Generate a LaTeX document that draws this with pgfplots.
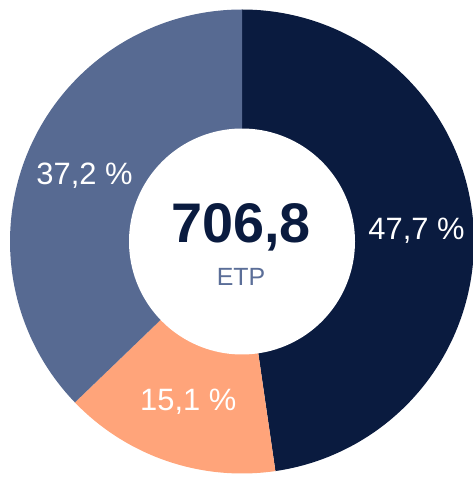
\documentclass[border=0pt]{standalone}
\usepackage{pgfplots}
\pgfplotsset{compat=1.18}
\usepackage{fontspec}
\setmainfont{Liberation Sans}
\definecolor{navy}{HTML}{0A1B3F}
\definecolor{slate}{HTML}{576A92}
\definecolor{peach}{HTML}{FFA47A}
\definecolor{etp}{HTML}{5B6E98}
\tikzset{lbl/.style={text=white, anchor=base, inner sep=0pt,
    font=\fontsize{31}{31}\selectfont}}

% shares in percent, clockwise from 12 o'clock
\def\pa{47.7}\def\pb{15.1}\def\pc{37.2}
\pgfmathsetmacro\aA{90}
\pgfmathsetmacro\aB{90-3.6*\pa}
\pgfmathsetmacro\aC{\aB-3.6*\pb}
\pgfmathsetmacro\aD{\aC-3.6*\pc}
\def\cx{242}\def\cy{235.5}\def\ro{232}\def\ri{113}

\begin{document}
\begin{tikzpicture}
\useasboundingbox (0,0) rectangle (473bp,477bp);
\begin{axis}[
  width=473bp, height=477bp, scale only axis,
  xmin=0, xmax=473, ymin=0, ymax=477,
  hide axis, clip=true,
  samples=150, variable=\t,
]
\addplot[fill=navy, draw=none, domain=\aB:\aA]
  ({\cx+\ro*cos(t)},{\cy+\ro*sin(t)}) -- (axis cs:\cx,\cy) -- cycle;
\addplot[fill=peach, draw=none, domain=\aC:\aB]
  ({\cx+\ro*cos(t)},{\cy+\ro*sin(t)}) -- (axis cs:\cx,\cy) -- cycle;
\addplot[fill=slate, draw=none, domain=\aD:\aC]
  ({\cx+\ro*cos(t)},{\cy+\ro*sin(t)}) -- (axis cs:\cx,\cy) -- cycle;
\addplot[fill=white, draw=none, domain=0:360]
  ({\cx+\ri*cos(t)},{\cy+\ri*sin(t)}) -- cycle;

\node[text=navy, anchor=base, inner sep=0pt,
  font=\fontsize{56}{56}\selectfont\bfseries] at (axis cs:241,234) {706,8};
\node[text=etp, anchor=base, inner sep=0pt,
  font=\fontsize{25}{25}\selectfont] at (axis cs:241,191) {ETP};
\node[lbl] at (axis cs:416.5,237) {47,7~\%};
\node[lbl] at (axis cs:84.5,292) {37,2~\%};
\node[lbl] at (axis cs:188.3,66) {15,1~\%};
\end{axis}
\end{tikzpicture}
\end{document}
